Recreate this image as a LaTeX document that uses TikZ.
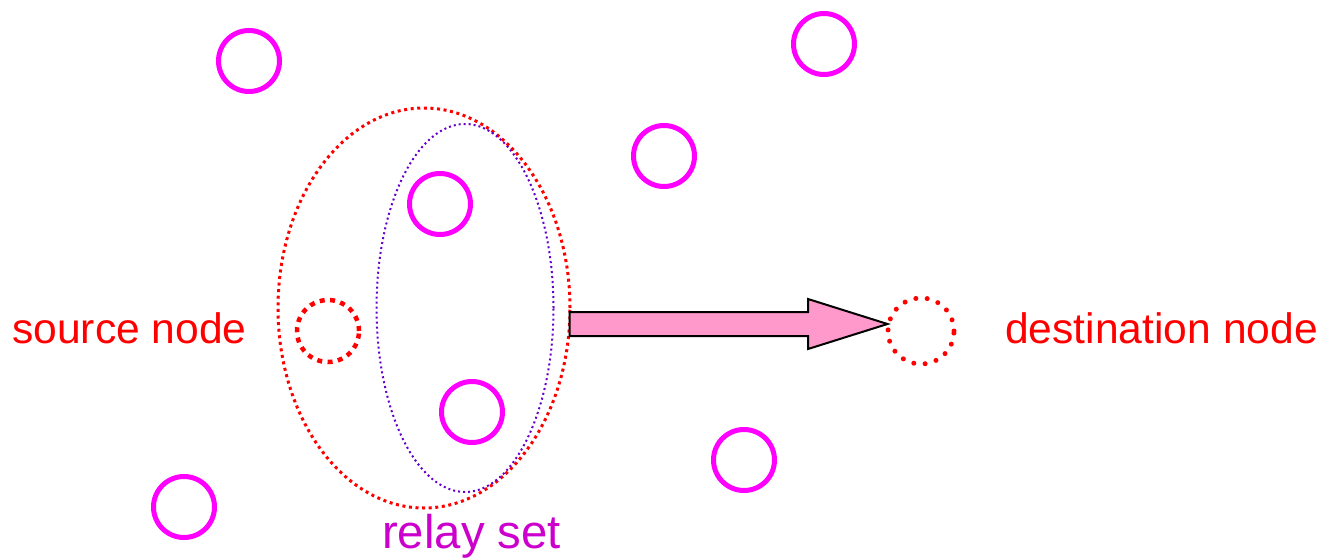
\documentclass[tikz,border=0pt]{standalone}
\usepackage{fontspec}
\setmainfont{Liberation Sans}
\usetikzlibrary{shapes.geometric,calc}
\definecolor{nodemag}{HTML}{FF00FF}
\definecolor{relaytxt}{HTML}{CC00CC}
\definecolor{relayblue}{HTML}{6600CC}
\definecolor{arrowpink}{HTML}{FF99CC}
\tikzset{
  peer/.style={circle,draw=nodemag,line width=5pt,minimum size=61pt,inner sep=0pt},
  srcnode/.style={circle,draw=red,line width=4.5pt,dash pattern=on 5pt off 5.4pt,minimum size=62pt,inner sep=0pt},
  dstnode/.style={circle,draw=red,line width=5pt,line cap=round,dash pattern=on 0pt off 11.4pt,minimum size=66pt,inner sep=0pt},
  label/.style={font=\fontsize{42.6}{48}\selectfont,text=red,anchor=base west,inner sep=0pt},
  bigarrow/.style={draw=black,fill=arrowpink,line width=2pt,line join=miter}
}
\begin{document}
\begin{tikzpicture}[x=1pt,y=-1pt]
\useasboundingbox (0,0) rectangle (1320,557);
% ordinary nodes
\node[peer] (n1) at (249,61) {};
\node[peer] (n2) at (824,44) {};
\node[peer] (n3) at (664,156) {};
\node[peer] (n4) at (440,204) {};
\node[peer] (n5) at (472,412) {};
\node[peer] (n6) at (744,460) {};
\node[peer] (n7) at (184,507) {};
% source and destination
\node[srcnode] (src) at (328,331) {};
\node[dstnode] (dst) at (921,331) {};
% coverage of the source and the relay set
\node[ellipse,draw=red,line width=3pt,dash pattern=on 3pt off 3.6pt,minimum width=292pt,minimum height=400pt,inner sep=0pt] (cover) at (424,308) {};
\node[ellipse,draw=relayblue,line width=2pt,dash pattern=on 2pt off 3pt,minimum width=177pt,minimum height=368pt,inner sep=0pt] (relay) at (465,308) {};
% forwarding arrow, pointing at the destination slightly above its centre
\draw[bigarrow]
  let \p1=(cover.east), \p2=($(dst.west)+(2,-7)$) in
  (\x1-2,\y2-12) -- (808,\y2-12) -- (808,\y2-25) -- (\x2,\y2) -- (808,\y2+25) -- (808,\y2+12) -- (\x1-2,\y2+12) -- cycle;
% labels
\node[label] (srclbl) at (12,343) {source node};
\node[label] (dstlbl) at (1005,343) {destination node};
\node[label,text=relaytxt,font=\fontsize{47.3}{52}\selectfont] (relaylbl) at (382,548) {relay set};
\end{tikzpicture}
\end{document}
